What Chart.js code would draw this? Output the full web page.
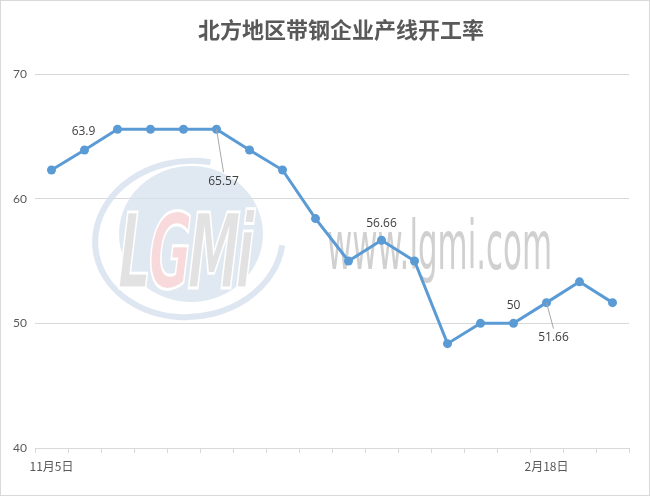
<!DOCTYPE html>
<html>
<head>
<meta charset="utf-8">
<script src="https://cdn.jsdelivr.net/npm/chart.js@4.4.1/dist/chart.umd.min.js"></script>
<style>
  html, body { margin: 0; padding: 0; background: #fff; }
  #wrap { position: relative; width: 650px; height: 496px; box-sizing: border-box; border: 1px solid #d9d9d9; }
  canvas { display: block; }
</style>
</head>
<body>
<div id="wrap"><canvas id="chart" width="648" height="494"></canvas></div>
<script>
// weekly dates, Nov 5 -> Mar 4
const dates = ['11月5日', '11月12日', '11月19日', '11月26日', '12月3日', '12月10日', '12月17日', '12月24日', '12月31日',
  '1月7日', '1月14日', '1月21日', '1月28日', '2月4日', '2月11日', '2月18日', '2月25日', '3月4日'];
const shownDates = ['11月5日', '2月18日'];
const rates = [62.3, 63.9, 65.57, 65.57, 65.57, 65.57, 63.9, 62.3, 58.4, 55.0, 56.66, 55.0, 48.37, 50, 50, 51.66, 53.33, 51.66];
const yTicks = [40, 50, 60, 70];
// which points get a value label
const labelled = [1, 5, 10, 14, 15];

const title = '北方地区带钢企业产线开工率';
const blue = '#5b9bd5';
const textColor = '#595959';

// label placement: dx, dy from point, leader line or not
const labelPos = {
  1: { dx: -1, dy: -18 },
  5: { dx: 7, dy: 52, leader: true },
  10: { dx: 0, dy: -17 },
  14: { dx: 0, dy: -18 },
  15: { dx: 7, dy: 35, leader: true }
};

const watermark = {
  id: 'watermark',
  beforeDatasetsDraw(chart) {
    const ctx = chart.ctx;
    ctx.save();
    // logo ellipse
    ctx.fillStyle = 'rgba(214,225,238,0.75)';
    ctx.beginPath();
    ctx.ellipse(190, 233, 72, 68, 0, 0, Math.PI * 2);
    ctx.fill();
    ctx.strokeStyle = 'rgba(214,225,238,0.8)';
    ctx.lineWidth = 6;
    ctx.beginPath();
    ctx.ellipse(188, 238, 94, 78, -0.1, 0.2, Math.PI * 1.6);
    ctx.stroke();
    // LGMi letters
    ctx.translate(113, 287);
    ctx.transform(1, 0, -0.12, 1, 0, 0);
    ctx.scale(0.72, 1.45);
    ctx.font = 'bold 72px "DejaVu Sans"';
    ctx.textBaseline = 'alphabetic';
    ctx.lineWidth = 2;
    ctx.strokeStyle = '#ffffff';
    const parts = [['L', '#e2e2e2'], ['G', '#f9dadc'], ['M', '#e2e2e2'], ['i', '#e2e2e2']];
    let x = 0;
    parts.forEach(p => {
      ctx.fillStyle = p[1];
      ctx.fillText(p[0], x, 0);
      ctx.strokeText(p[0], x, 0);
      x += ctx.measureText(p[0]).width - 4;
    });
    ctx.restore();

    // site text
    ctx.save();
    ctx.translate(326, 268);
    ctx.scale(0.78, 1.55);
    ctx.font = '44px "DejaVu Sans Condensed", "DejaVu Sans"';
    ctx.fillStyle = 'rgba(200,200,200,0.85)';
    ctx.textBaseline = 'alphabetic';
    ctx.fillText('www.lgmi.com', 0, 0);
    ctx.restore();
  }
};

const valueLabels = {
  id: 'valueLabels',
  afterDatasetsDraw(chart) {
    const ctx = chart.ctx;
    const meta = chart.getDatasetMeta(0);
    ctx.save();
    ctx.font = '12px "Open Sans", sans-serif';
    ctx.fillStyle = '#404040';
    ctx.textAlign = 'center';
    ctx.textBaseline = 'middle';
    labelled.forEach(i => {
      const pt = meta.data[i];
      const pos = labelPos[i];
      const lx = pt.x + pos.dx;
      const ly = pt.y + pos.dy;
      if (pos.leader) {
        ctx.strokeStyle = '#a6a6a6';
        ctx.lineWidth = 1;
        ctx.beginPath();
        ctx.moveTo(pt.x, pt.y);
        ctx.lineTo(lx, ly - 9);
        ctx.stroke();
      }
      ctx.fillText(String(rates[i]), lx, ly);
    });
    ctx.restore();
  }
};

const titlePlugin = {
  id: 'titleText',
  afterDraw(chart) {
    const ctx = chart.ctx;
    ctx.save();
    ctx.font = 'bold 22px "Noto Sans CJK SC"';
    ctx.fillStyle = textColor;
    ctx.textAlign = 'center';
    ctx.textBaseline = 'middle';
    ctx.fillText(title, 340, 29);
    ctx.restore();
  }
};

new Chart(document.getElementById('chart'), {
  type: 'line',
  data: {
    labels: dates,
    datasets: [{
      data: rates,
      borderColor: blue,
      backgroundColor: blue,
      borderWidth: 3,
      pointRadius: 4.5,
      pointBackgroundColor: blue,
      pointBorderWidth: 0,
      tension: 0,
      fill: false
    }]
  },
  options: {
    responsive: false,
    animation: false,
    layout: { padding: { top: 73, right: 20, bottom: 0, left: 0 } },
    plugins: {
      legend: { display: false },
      tooltip: { enabled: false },
      title: { display: false }
    },
    scales: {
      x: {
        offset: true,
        grid: {
          offset: true,
          drawOnChartArea: false,
          color: '#d9d9d9',
          tickLength: 5
        },
        border: { color: '#d9d9d9' },
        ticks: {
          autoSkip: false,
          maxRotation: 0,
          padding: 6,
          color: textColor,
          font: { size: 12, family: '"Noto Sans CJK SC"' },
          callback: function (v, i) {
            const d = dates[i];
            return shownDates.includes(d) ? d : '';
          }
        },
        afterFit: s => { s.height = 47; }
      },
      y: {
        min: 40,
        max: 70,
        afterBuildTicks: s => { s.ticks = yTicks.map(v => ({ value: v })); },
        grid: { color: '#d9d9d9', drawTicks: false },
        border: { display: false },
        ticks: {
          padding: 8,
          color: textColor,
          font: { size: 12, family: 'Lato' }
        },
        afterFit: s => { s.width = 34; }
      }
    }
  },
  plugins: [watermark, valueLabels, titlePlugin]
});
</script>
</body>
</html>
